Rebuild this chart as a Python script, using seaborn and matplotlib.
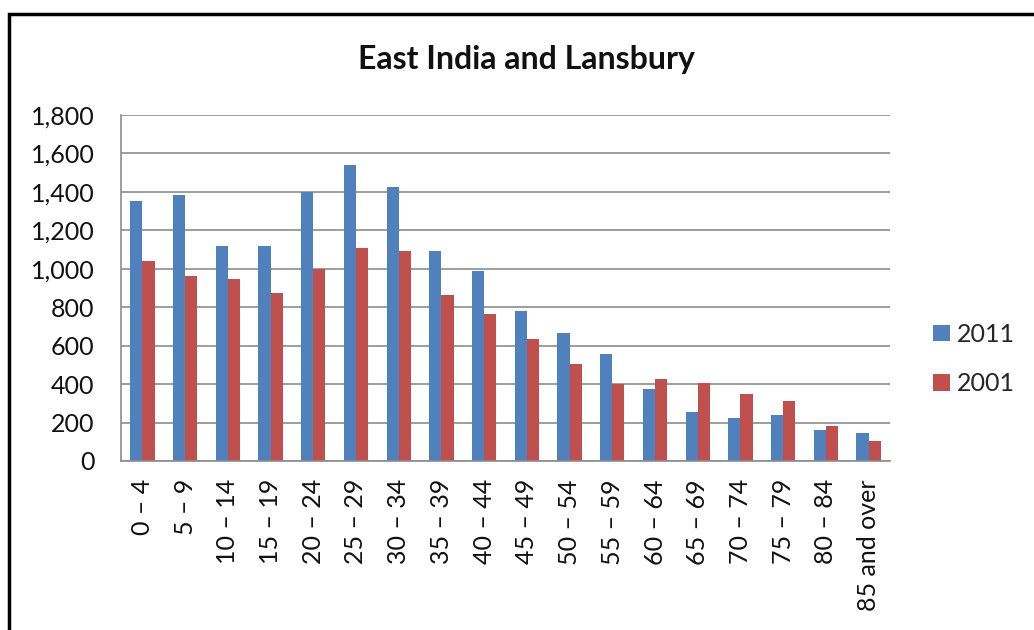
import seaborn as sns
import pandas as pd
import matplotlib.pyplot as plt
from matplotlib.patches import Rectangle
from matplotlib.ticker import FuncFormatter

ages = ["0 – 4", "5 – 9", "10 – 14", "15 – 19", "20 – 24", "25 – 29", "30 – 34",
        "35 – 39", "40 – 44", "45 – 49", "50 – 54", "55 – 59", "60 – 64",
        "65 – 69", "70 – 74", "75 – 79", "80 – 84", "85 and over"]
pop_2011 = [1350, 1385, 1117, 1117, 1398, 1542, 1425, 1090, 988, 780,
            665, 556, 377, 254, 226, 240, 160, 147]
pop_2001 = [1038, 960, 945, 872, 998, 1110, 1095, 866, 766, 636,
            507, 398, 428, 405, 348, 312, 180, 103]

data = pd.DataFrame({
    "age": ages * 2,
    "people": pop_2011 + pop_2001,
    "year": ["2011"] * len(ages) + ["2001"] * len(ages),
})

sns.set_style("white")
plt.rcParams["font.family"] = ["Lato", "DejaVu Sans"]

fig = plt.figure(figsize=(10.34, 6.3), dpi=100)
ax = fig.add_axes([121 / 1034, 1 - 461 / 630, (890 - 121) / 1034, (461 - 115) / 630])

sns.barplot(data=data, x="age", y="people", hue="year", ax=ax,
            palette=["#4F81BD", "#C0504D"], width=0.57, gap=0,
            saturation=1, edgecolor="none")

ax.set_ylim(0, 1800)
ax.set_yticks(range(0, 1801, 200))
ax.yaxis.set_major_formatter(FuncFormatter(lambda v, p: f"{int(v):,}"))
ax.yaxis.grid(True, color="#8c8c8c", linewidth=1.2)
ax.set_axisbelow(True)
ax.set_xlim(-0.5, len(ages) - 0.5)
ax.set_xlabel("")
ax.set_ylabel("")
ax.tick_params(axis="y", labelsize=18, pad=19, length=0, colors="#111111")
ax.tick_params(axis="x", labelsize=18, pad=13, length=0, colors="#111111", labelrotation=90)

for s in ["top", "right"]:
    ax.spines[s].set_visible(False)
for s in ["left", "bottom"]:
    ax.spines[s].set_color("#8c8c8c")
    ax.spines[s].set_linewidth(1.2)

ax.legend(title=None, frameon=False, loc="center left", bbox_to_anchor=(1.027, 0.295),
          fontsize=18, handlelength=0.65, handleheight=0.65, handletextpad=0.3,
          labelspacing=1.05)

fig.text(526 / 1034, 1 - 60 / 630, "East India and Lansbury", ha="center", va="center",
         fontsize=23, fontweight="bold", color="#111111")

fig.patches.append(Rectangle((9 / 1034, -0.1), 1.2, 1 - 14 / 630 + 0.1,
                             transform=fig.transFigure, fill=False,
                             edgecolor="black", linewidth=2.5))

fig.savefig("out.png", dpi=100)
